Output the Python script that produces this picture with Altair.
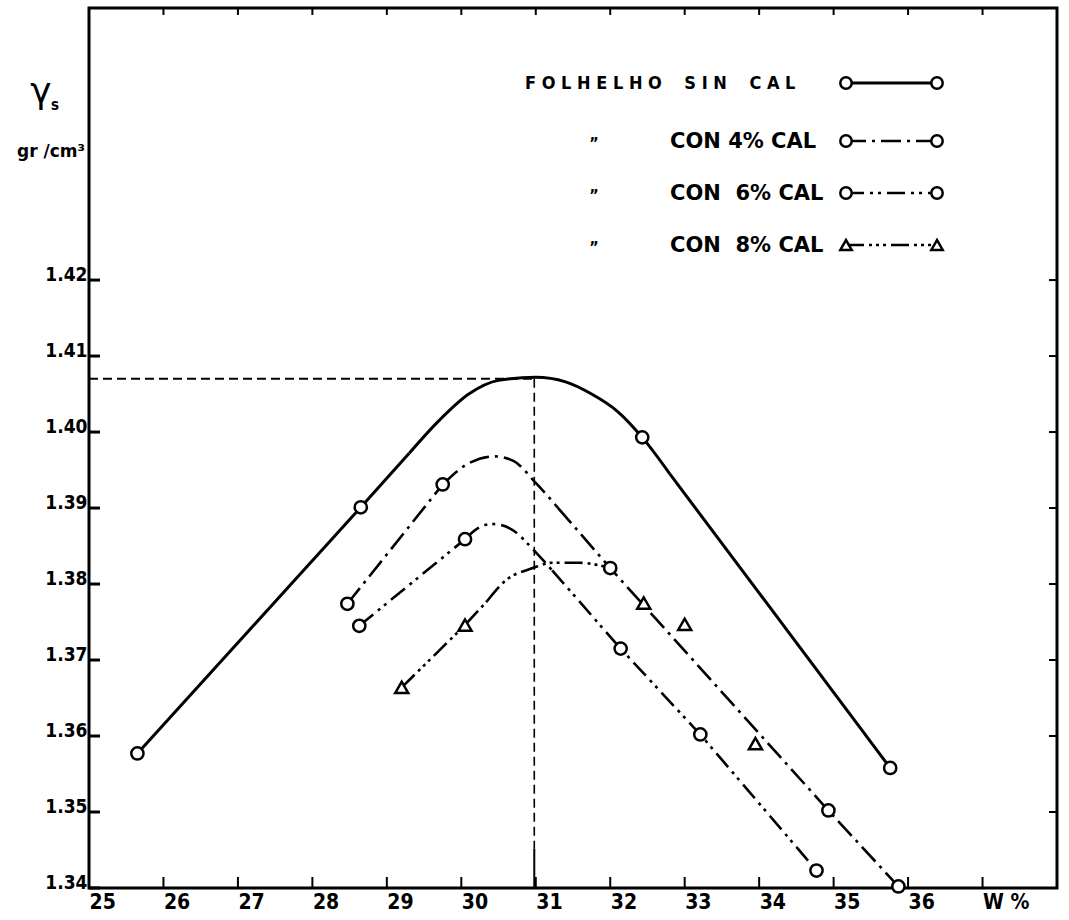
import altair as alt
import pandas as pd

# ---------------- axis values ----------------
W_TICKS = [25, 26, 27, 28, 29, 30, 31, 32, 33, 34, 35, 36, 37]
W_LABELS = ["25", "26", "27", "28", "29", "30", "31", "32", "33", "34", "35", "36", "W %"]
G_TICKS = [1.34, 1.35, 1.36, 1.37, 1.38, 1.39, 1.40, 1.41, 1.42]
W_DOMAIN = [25, 38]
G_DOMAIN = [1.34, 1.4558]

# ---------------- measured points (markers) ----------------
SIN_W = [25.65, 28.65, 32.43, 35.76]
SIN_G = [1.3577, 1.3901, 1.3993, 1.3558]
C4_W = [28.47, 29.75, 32.00, 34.93, 35.87]
C4_G = [1.3774, 1.3931, 1.3821, 1.3502, 1.3402]
C6_W = [28.63, 30.05, 32.14, 33.21, 34.77]
C6_G = [1.3745, 1.3859, 1.3715, 1.3602, 1.3423]
C8_W = [29.20, 30.05, 32.45, 33.00, 33.95]
C8_G = [1.3664, 1.3746, 1.3775, 1.3747, 1.3590]

# ---------------- hand-drawn curves ----------------
SIN_CW = [25.65, 28.65, 29.3, 29.7, 30.1, 30.5, 31.0, 31.4, 31.75, 32.1, 32.43, 32.8, 35.76]
SIN_CG = [1.3577, 1.3901, 1.3972, 1.4015, 1.4050, 1.4068, 1.4072, 1.4066, 1.4050, 1.4027, 1.3993,
          1.3945, 1.3558]
C4_CW = [28.47, 29.75, 30.05, 30.45, 30.70, 31.00, 31.30, 32.00, 34.93, 35.87]
C4_CG = [1.3774, 1.3931, 1.3956, 1.3968, 1.3962, 1.3933, 1.3900, 1.3821, 1.3502, 1.3402]
C6_CW = [28.63, 30.05, 30.20, 30.42, 30.69, 30.96, 31.22, 32.14, 33.21, 34.77]
C6_CG = [1.3745, 1.3859, 1.3872, 1.3879, 1.3871, 1.3846, 1.3818, 1.3715, 1.3602, 1.3423]
C8_CW = [29.20, 30.05, 30.35, 30.60, 30.96, 31.22, 31.58, 32.00]
C8_CG = [1.3664, 1.3746, 1.3778, 1.3805, 1.3821, 1.3828, 1.3828, 1.3821]
# index range of the rounded (hand-curved) part of each curve; the rest is ruled straight
ARCS = [(2, 11), (1, 6), (1, 6), (2, 7)]

# optimum reference lines
REF_W = [25.0, 30.98]
REF_G = [1.407, 1.3452, 1.34]

SERIES = ["FOLHELHO SIN CAL", "CON 4% CAL", "CON  6% CAL", "CON  8% CAL"]
DITTO = ["", "\u201d", "\u201d", "\u201d"]

# ---------------- layout / style ----------------
PW, PH = 968, 880
FONT = "DejaVu Sans Condensed, Liberation Sans Narrow, DejaVu Sans, sans-serif"
WFONT = "DejaVu Sans, Liberation Sans, sans-serif"
INK = "#000000"
XS = alt.Scale(domain=W_DOMAIN, nice=False, zero=False)
YS = alt.Scale(domain=G_DOMAIN, nice=False, zero=False)

label_expr = "datum.label"
for v, l in zip(W_TICKS, W_LABELS):
    if l != str(v):
        label_expr = f"datum.value == {v} ? '{l}' : " + label_expr

X_AX = alt.Axis(values=W_TICKS, labelExpr=label_expr, ticks=False, tickSize=0, domain=False,
                grid=False, labelFont=FONT, labelFontSize=21, labelFontWeight="bold",
                labelColor=INK, labelAlign="left", labelPadding=3, labelFlush=False)
Y_AX = alt.Axis(values=G_TICKS, format=".2f", ticks=False, tickSize=0, domain=False,
                grid=False, labelFont=FONT, labelFontSize=19, labelFontWeight="bold",
                labelColor=INK, labelAlign="right", labelBaseline="alphabetic",
                labelPadding=2, labelFlush=False)


def X(f):
    return alt.X(f"{f}:Q", scale=XS, axis=X_AX, title=None)


def Y(f):
    return alt.Y(f"{f}:Q", scale=YS, axis=Y_AX, title=None)


layers = []

# tick marks (inward)
wt = pd.DataFrame({"w": W_TICKS})
gt = pd.DataFrame({"g": G_TICKS})
layers.append(alt.Chart(wt).mark_rule(color=INK, strokeWidth=2).encode(
    x=X("w"), y=alt.value(PH), y2=alt.value(PH - 11)))
layers.append(alt.Chart(wt).mark_rule(color=INK, strokeWidth=2).encode(
    x=X("w"), y=alt.value(0), y2=alt.value(7)))
layers.append(alt.Chart(gt).mark_rule(color=INK, strokeWidth=3).encode(
    y=Y("g"), x=alt.value(0), x2=alt.value(11)))
layers.append(alt.Chart(gt).mark_rule(color=INK, strokeWidth=2).encode(
    y=Y("g"), x=alt.value(PW), x2=alt.value(PW - 8)))

# reference lines
ref_h = pd.DataFrame({"w1": [REF_W[0]], "w2": [REF_W[1]], "g": [REF_G[0]]})
layers.append(alt.Chart(ref_h).mark_rule(color=INK, strokeWidth=2, strokeDash=[9, 5]).encode(
    x=X("w1"), x2="w2:Q", y=Y("g")))
ref_v = pd.DataFrame({"w": [REF_W[1]], "g1": [REF_G[0]], "g2": [REF_G[1]]})
layers.append(alt.Chart(ref_v).mark_rule(color=INK, strokeWidth=1.6, strokeDash=[9, 5]).encode(
    x=X("w"), y=Y("g1"), y2="g2:Q"))
ref_s = pd.DataFrame({"w": [REF_W[1]], "g1": [REF_G[1]], "g2": [REF_G[2]]})
layers.append(alt.Chart(ref_s).mark_rule(color=INK, strokeWidth=2).encode(
    x=X("w"), y=Y("g1"), y2="g2:Q"))

DASHES = [None, [20, 6, 3, 6], [18, 6, 3, 5, 3, 6], [18, 5, 3, 4, 3, 4, 3, 5]]
WIDTHS = [3, 2.6, 2.6, 2.6]
SHAPES = ["circle", "circle", "circle", "triangle-up"]
CURVES = [(SIN_CW, SIN_CG), (C4_CW, C4_CG), (C6_CW, C6_CG), (C8_CW, C8_CG)]
POINTS = [(SIN_W, SIN_G), (C4_W, C4_G), (C6_W, C6_G), (C8_W, C8_G)]


def line_kw(i):
    kw = dict(color=INK, strokeWidth=WIDTHS[i])
    if DASHES[i]:
        kw["strokeDash"] = DASHES[i]
    return kw


for i, (cw, cg) in enumerate(CURVES):
    a, b = ARCS[i]
    pieces = [(0, a, "linear"), (a, b, "monotone"), (b, len(cw) - 1, "linear")]
    for s, e, interp in pieces:
        if e <= s:
            continue
        df = pd.DataFrame({"w": cw[s:e + 1], "g": cg[s:e + 1], "i": list(range(e - s + 1))})
        layers.append(alt.Chart(df).mark_line(interpolate=interp, **line_kw(i)).encode(
            x=X("w"), y=Y("g"), order="i:Q"))

for i, (pw, pg) in enumerate(POINTS):
    df = pd.DataFrame({"w": pw, "g": pg})
    size = 150 if SHAPES[i] == "circle" else 170
    layers.append(alt.Chart(df).mark_point(shape=SHAPES[i], filled=True, color="white",
                                           stroke=INK, strokeWidth=2.5, size=size,
                                           opacity=1).encode(x=X("w"), y=Y("g")))

# ---------------- hand-made legend ----------------
LEG_Y = [75, 133, 185, 237]
SAMPLE_X = [757, 848]
NB = "\u00a0"
for i, name in enumerate(SERIES):
    if i == 0:
        txt = (NB * 4).join(NB.join(word) for word in name.split(" "))
        tx, fs, fnt = 436, 18, FONT
    else:
        txt = name.replace(" ", NB)
        tx, fs, fnt = 581, 21, WFONT
    layers.append(alt.Chart(pd.DataFrame({"t": [txt]})).mark_text(
        align="left", baseline="middle", font=fnt, fontSize=fs, fontWeight="bold",
        color=INK).encode(x=alt.value(tx), y=alt.value(LEG_Y[i] + 1), text="t:N"))
    if DITTO[i]:
        layers.append(alt.Chart(pd.DataFrame({"t": [DITTO[i]]})).mark_text(
            align="center", baseline="middle", font=FONT, fontSize=16, fontWeight="bold",
            color=INK).encode(x=alt.value(505), y=alt.value(LEG_Y[i] + 3), text="t:N"))
    layers.append(alt.Chart(pd.DataFrame({"t": [name]})).mark_rule(**line_kw(i)).encode(
        x=alt.value(SAMPLE_X[0]), x2=alt.value(SAMPLE_X[1]), y=alt.value(LEG_Y[i])))
    for sx in SAMPLE_X:
        layers.append(alt.Chart(pd.DataFrame({"t": [name]})).mark_point(
            shape=SHAPES[i], filled=True, color="white", stroke=INK, strokeWidth=2.5,
            size=130, opacity=1).encode(x=alt.value(sx), y=alt.value(LEG_Y[i])))

# ---------------- y title ----------------
layers.append(alt.Chart(pd.DataFrame({"t": ["\u03b3"]})).mark_text(
    align="center", baseline="middle", font="DejaVu Sans", fontSize=36, color=INK).encode(
    x=alt.value(-48), y=alt.value(84), text="t:N"))
layers.append(alt.Chart(pd.DataFrame({"t": ["s"]})).mark_text(
    align="left", baseline="middle", font=FONT, fontSize=15, fontWeight="bold", color=INK).encode(
    x=alt.value(-38), y=alt.value(97), text="t:N"))
layers.append(alt.Chart(pd.DataFrame({"t": ["gr /cm\u00b3"]})).mark_text(
    align="right", baseline="middle", font=WFONT, fontSize=17, fontWeight="bold", color=INK).encode(
    x=alt.value(-4), y=alt.value(144), text="t:N"))

chart = alt.layer(*layers).properties(
    width=PW, height=PH,
    autosize=alt.AutoSizeParams(type="none"),
    padding={"left": 89, "top": 8, "right": 12, "bottom": 32},
    background="white",
).configure_view(stroke=INK, strokeWidth=3)

chart.save("out.html", embed_options={"renderer": "svg", "actions": False})
